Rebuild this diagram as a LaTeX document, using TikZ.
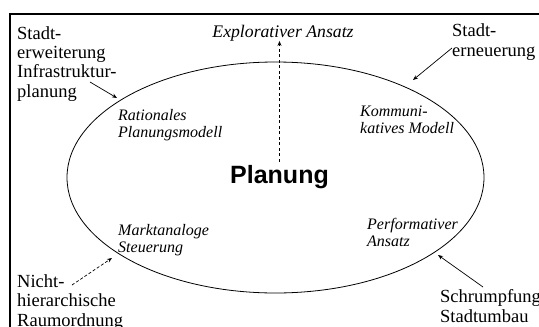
\documentclass[tikz,border=0pt]{standalone}
\usepackage{fontspec}
\setmainfont{Liberation Serif}
\newfontfamily\plsans{Liberation Sans}
\usetikzlibrary{arrows.meta,shapes.geometric}
\begin{document}
\begin{tikzpicture}[x=1pt,y=-1pt,
  outer/.style={font=\fontsize{18.5}{19.3}\selectfont,align=left,anchor=base west,inner sep=0pt},
  inner/.style={font=\fontsize{16}{16.5}\selectfont\itshape,align=left,anchor=base west,inner sep=0pt},
  arr/.style={line width=0.7pt,-{Stealth[length=5pt,width=4pt]}},
  dsh/.style={arr,dash pattern=on 3pt off 2pt}]
\useasboundingbox (0,0) rectangle (539,327);
\begin{scope}
\clip (0,0) rectangle (539,327);
\draw[line width=1.1pt] (10,14) rectangle (560,360);
\end{scope}
\node[draw,ellipse,line width=0.8pt,minimum width=417pt,minimum height=231pt,inner sep=0pt] (ell) at (275.5,177.5) {};
\node[font=\plsans\bfseries\fontsize{25}{28}\selectfont,anchor=base,inner sep=3pt] (plan) at (279.5,183) {Planung};
\node[font=\fontsize{17.7}{19}\selectfont\itshape,anchor=base,inner sep=0pt] (expl) at (283,37) {Explorativer Ansatz};
\draw[arr,dash pattern=on 3pt off 2.5pt] (plan.north) -- (plan.north |- expl.south);
% outer texts (base anchor = baseline of last line)
\node[outer] (tl) at (17,97) {Stadt-\\erweiterung\\Infrastruktur-\\planung};
\node[outer] (tr) at (452,56) {Stadt-\\erneuerung};
\node[outer] (bl) at (17,326) {Nicht-\\hierarchische\\Raumordnung};
\node[outer] (br) at (440,322) {Schrumpfung\\Stadtumbau};
% inner texts
\node[inner] (rat) at (118,137) {Rationales\\Planungsmodell};
\node[inner] (kom) at (360,133) {Kommuni-\\katives Modell};
\node[inner] (mar) at (118,252) {Marktanaloge\\Steuerung};
\node[inner] (per) at (367,246) {Performativer\\Ansatz};
% arrows
\coordinate (tlA) at (90,82);
\coordinate (tlB) at (117,98);
\coordinate (trA) at (452,48);
\coordinate (trB) at (413,80);
\coordinate (blA) at (72,285);
\coordinate (blB) at (112,258);
\coordinate (brA) at (483,287);
\coordinate (brB) at (438,255);
\draw[arr] (tlA) -- (tlB);
\draw[arr] (trA) -- (trB);
\draw[dsh] (blA) -- (blB);
\draw[arr] (brA) -- (brB);
\end{tikzpicture}
\end{document}
